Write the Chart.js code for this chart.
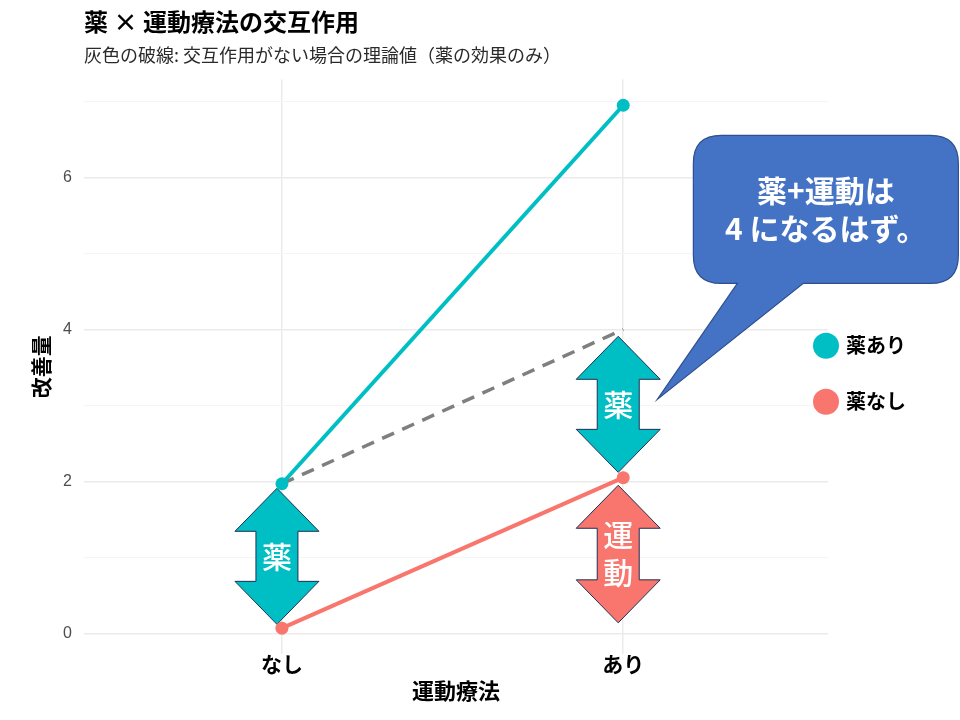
<!DOCTYPE html>
<html lang="ja">
<head>
<meta charset="utf-8">
<script src="https://cdn.jsdelivr.net/npm/chart.js@4.4.1/dist/chart.umd.min.js"></script>
<style>
  html, body { margin: 0; padding: 0; background: #fff; }
  #wrap { width: 960px; height: 720px; }
</style>
</head>
<body>
<div id="wrap"><canvas id="chart"></canvas></div>
<script>
// data
const exerciseLevels = ['なし', 'あり'];
const drugYes = [1.97, 6.95];
const drugNo = [0.07, 2.05];
const noInteraction = [1.97, 4.0];
const yGridValues = [0, 1, 2, 3, 4, 5, 6, 7];
const yLabelValues = [0, 2, 4, 6];

// effect arrows (category index, from, to, label lines)
const arrowLevel = [0, 1, 1];
const arrowFrom = [0.12, 2.12, 0.14];
const arrowTo = [1.91, 3.91, 1.95];
const arrowText = [['薬'], ['薬'], ['運', '動']];
const arrowColor = ['#00BFC4', '#00BFC4', '#F8766D'];

const calloutText = ['薬+運動は', '4 になるはず。'];

const JP = "'Noto Sans CJK JP', 'Noto Sans', sans-serif";
const xPos = exerciseLevels.map((_, i) => i + 1);
const toPoints = (vals) => vals.map((v, i) => ({ x: xPos[i], y: v }));

function drawDoubleArrow(ctx, cx, yTop, yBottom, color, lines) {
  const headHalf = 42, shaftHalf = 21, headLen = 43;
  ctx.save();
  ctx.beginPath();
  ctx.moveTo(cx, yTop);
  ctx.lineTo(cx + headHalf, yTop + headLen);
  ctx.lineTo(cx + shaftHalf, yTop + headLen);
  ctx.lineTo(cx + shaftHalf, yBottom - headLen);
  ctx.lineTo(cx + headHalf, yBottom - headLen);
  ctx.lineTo(cx, yBottom);
  ctx.lineTo(cx - headHalf, yBottom - headLen);
  ctx.lineTo(cx - shaftHalf, yBottom - headLen);
  ctx.lineTo(cx - shaftHalf, yTop + headLen);
  ctx.lineTo(cx - headHalf, yTop + headLen);
  ctx.closePath();
  ctx.fillStyle = color;
  ctx.fill();
  ctx.lineWidth = 1;
  ctx.strokeStyle = '#1F2F55';
  ctx.stroke();
  ctx.fillStyle = '#fff';
  ctx.font = '500 30px ' + JP;
  ctx.textAlign = 'center';
  ctx.textBaseline = 'middle';
  const mid = (yTop + yBottom) / 2;
  const gap = 38;
  lines.forEach((t, i) => {
    ctx.fillText(t, cx, mid + (i - (lines.length - 1) / 2) * gap);
  });
  ctx.restore();
}

const arrowsPlugin = {
  id: 'effectArrows',
  beforeDatasetsDraw(chart) {
    const { ctx, scales: { x, y } } = chart;
    arrowLevel.forEach((lv, i) => {
      const cx = x.getPixelForValue(xPos[lv]) - 5;
      drawDoubleArrow(ctx, cx, y.getPixelForValue(arrowTo[i]), y.getPixelForValue(arrowFrom[i]), arrowColor[i], arrowText[i]);
    });
  }
};

const calloutPlugin = {
  id: 'callout',
  afterDraw(chart) {
    const { ctx, scales: { x, y } } = chart;
    // pointer tip sits next to the upper 薬 arrow
    const tx = x.getPixelForValue(2.1), ty = y.getPixelForValue(3.08);
    const L = tx + 36, R = tx + 301, T = ty - 264, B = ty - 116, r = 28;
    ctx.save();
    ctx.beginPath();
    ctx.moveTo(L + r, T);
    ctx.lineTo(R - r, T);
    ctx.quadraticCurveTo(R, T, R, T + r);
    ctx.lineTo(R, B - r);
    ctx.quadraticCurveTo(R, B, R - r, B);
    ctx.lineTo(tx + 146, B);
    ctx.lineTo(tx, ty);
    ctx.lineTo(tx + 80, B);
    ctx.lineTo(L + r, B);
    ctx.quadraticCurveTo(L, B, L, B - r);
    ctx.lineTo(L, T + r);
    ctx.quadraticCurveTo(L, T, L + r, T);
    ctx.closePath();
    ctx.fillStyle = '#4472C4';
    ctx.fill();
    ctx.lineWidth = 1.2;
    ctx.strokeStyle = '#2F4F8F';
    ctx.stroke();
    ctx.fillStyle = '#fff';
    ctx.font = 'bold 30px ' + JP;
    ctx.textAlign = 'center';
    ctx.textBaseline = 'middle';
    calloutText.forEach((t, i) => ctx.fillText(t, (L + R) / 2, T + 55 + i * 38));
    ctx.restore();
  }
};

const legendPlugin = {
  id: 'sideLegend',
  afterDraw(chart) {
    const { ctx, chartArea } = chart;
    const items = chart.data.datasets.filter((d) => d.label);
    const cy0 = (chartArea.top + chartArea.bottom) / 2 - 21;
    ctx.save();
    items.forEach((d, i) => {
      const cy = cy0 + i * 56;
      ctx.beginPath();
      ctx.arc(chartArea.right - 2, cy, 13, 0, Math.PI * 2);
      ctx.fillStyle = d.borderColor;
      ctx.fill();
      ctx.fillStyle = '#000';
      ctx.font = 'bold 20px ' + JP;
      ctx.textAlign = 'left';
      ctx.textBaseline = 'middle';
      ctx.fillText(d.label, chartArea.right + 18, cy);
    });
    ctx.restore();
  }
};

new Chart(document.getElementById('chart'), {
  type: 'line',
  data: {
    datasets: [
      {
        label: '薬あり',
        data: toPoints(drugYes),
        borderColor: '#00BFC4',
        backgroundColor: '#00BFC4',
        borderWidth: 4,
        pointRadius: 6.5,
        pointBorderWidth: 0,
      },
      {
        label: '薬なし',
        data: toPoints(drugNo),
        borderColor: '#F8766D',
        backgroundColor: '#F8766D',
        borderWidth: 4,
        pointRadius: 6.5,
        pointBorderWidth: 0,
      },
      {
        label: '',
        data: toPoints(noInteraction),
        borderColor: '#7F7F7F',
        borderWidth: 3.5,
        borderDash: [13, 9],
        pointRadius: 0,
      },
    ],
  },
  options: {
    responsive: true,
    maintainAspectRatio: false,
    animation: false,
    layout: { padding: { left: 0, right: 132, top: 0, bottom: 0 } },
    plugins: {
      legend: { display: false },
      tooltip: { enabled: false },
      title: {
        display: true,
        text: '薬 × 運動療法の交互作用',
        align: 'start',
        fullSize: false,
        color: '#000',
        font: { family: JP, size: 24, weight: 'bold' },
        padding: { top: 7, bottom: 9 },
      },
      subtitle: {
        display: true,
        text: '灰色の破線: 交互作用がない場合の理論値（薬の効果のみ）',
        align: 'start',
        fullSize: false,
        color: '#2a2a2a',
        font: { family: JP, size: 18 },
        padding: { top: 0, bottom: 13 },
      },
    },
    scales: {
      x: {
        type: 'linear',
        min: 0.42,
        max: 2.6,
        afterBuildTicks: (s) => { s.ticks = xPos.map((v) => ({ value: v })); },
        afterFit: (s) => { s.height = 66; },
        ticks: {
          callback: (v, i) => exerciseLevels[i],
          color: '#000',
          padding: 0,
          font: { family: JP, size: 21, weight: 'bold', lineHeight: 1 },
        },
        grid: { color: '#EBEBEB', lineWidth: 1.5, drawTicks: false },
        border: { display: false },
        title: {
          display: true,
          text: '運動療法',
          color: '#000',
          font: { family: JP, size: 22, weight: 'bold', lineHeight: 1.2 },
          padding: { top: 0, bottom: 16 },
        },
      },
      y: {
        min: -0.27,
        max: 7.29,
        afterBuildTicks: (s) => { s.ticks = yGridValues.map((v) => ({ value: v })); },
        afterFit: (s) => { s.width = 84; },
        ticks: {
          callback: (v) => (yLabelValues.includes(v) ? String(v) : ''),
          color: '#4D4D4D',
          padding: 12,
          font: { family: "'Liberation Sans', Arial, sans-serif", size: 16 },
        },
        grid: {
          color: (c) => (yLabelValues.includes(c.tick.value) ? '#EBEBEB' : '#F5F5F5'),
          lineWidth: (c) => (yLabelValues.includes(c.tick.value) ? 1.5 : 1),
          drawTicks: false,
        },
        border: { display: false },
        title: {
          display: true,
          text: '改善量',
          color: '#000',
          font: { family: JP, size: 21, weight: 'bold', lineHeight: 1.2 },
          padding: { top: 28, bottom: 0 },
        },
      },
    },
  },
  plugins: [arrowsPlugin, calloutPlugin, legendPlugin],
});
</script>
</body>
</html>
